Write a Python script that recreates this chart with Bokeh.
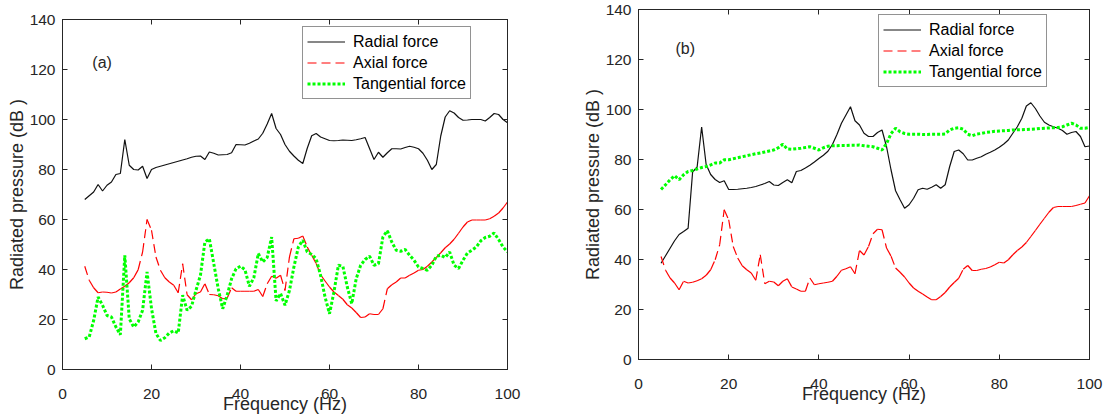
from bokeh.plotting import figure
from bokeh.models import Range1d, LinearAxis, SingleIntervalTicker, Legend, LegendItem
from bokeh.layouts import row
from bokeh.embed import file_html
from bokeh.resources import INLINE
from bokeh.core.properties import value

freq = list(range(5, 101))

radial_a = [68, 69.5, 71, 74, 71.4, 73.7, 75, 78, 78.4, 92, 81.7, 80, 79.8, 81.3, 76.4, 80,
            80.8, 81.3, 81.8, 82.3, 82.8, 83.3, 83.8, 84.3, 84.9, 85.3, 85.4, 84, 87, 86.5, 85.8,
            85.9, 86, 86.7, 90, 89.9, 89.8, 90.5, 91.4, 92.2, 94.5, 98.2, 102.4, 96.4, 94, 90,
            87.3, 85.4, 83.7, 82.4, 88.5, 93.5, 94.4, 93, 92.3, 91.6, 91.5, 91.6, 91.8, 91.7,
            91.6, 91.9, 92.3, 92.8, 88.4, 84, 86.9, 84.9, 86.7, 88.3, 88.3, 88.2, 88.8, 89.3,
            88.9, 88.3, 86.5, 83.7, 80, 82, 93.4, 101, 103.5, 102.6, 100.8, 99.7, 99.8, 100,
            100, 100, 99.4, 100.8, 102.4, 102, 100, 98.7]
axial_a = [41.3, 35.7, 32.7, 30.7, 31, 30.9, 30.6, 31, 32.2, 33.3, 34.7, 36.7, 39.9, 47, 60,
           55.7, 45, 39.7, 36.7, 35, 33.7, 30.7, 42.3, 29.9, 27.9, 30.3, 31, 34.3, 30, 29.9,
           29.5, 28.3, 28.5, 32.7, 31.3, 31.3, 31.3, 31.3, 31.3, 32, 29.2, 34.3, 37.3, 36.5,
           37.7, 31.6, 45, 52.3, 52.5, 53.4, 49, 45.7, 42.4, 37.9, 35.4, 33, 31, 29.6, 28.1,
           25.9, 24.6, 22.8, 20.8, 21, 22.3, 22, 22, 24.3, 32.3, 33.9, 35, 36.6, 36.6, 37.7,
           38.6, 39.7, 40, 41.3, 43, 44.8, 46.7, 48.7, 50.2, 52.1, 54.5, 57, 59, 59.8, 59.8,
           59.8, 59.8, 60.3, 61.3, 62.6, 64.6, 67]
tangential_a = [12.3, 13, 19.6, 29, 25.7, 21.6, 21, 17, 13.9, 45.7, 20.3, 17, 19, 23.7, 39,
                24.4, 14.4, 11.6, 12.7, 14.6, 15.5, 14.6, 29.7, 23.7, 25.3, 31.7, 37.7, 51,
                52.3, 42.3, 32.3, 24.3, 29.7, 36.3, 40.3, 41.3, 39.9, 33.3, 36.7, 46.4, 43,
                44.8, 53, 27.4, 30.4, 25.7, 31.6, 41, 49, 51.7, 47, 46, 44.3, 37.6, 29, 22.3,
                31, 41.7, 41.3, 33, 26.3, 36.3, 41.7, 44, 45.3, 41.7, 42.3, 53, 55.5, 51, 47.7,
                47.3, 48, 45.7, 43.7, 41, 40.4, 39.7, 41.7, 45.3, 45.7, 44.8, 47, 41.7, 40.4,
                43.7, 46.6, 47.7, 49, 51.5, 52.8, 53.3, 54.6, 52, 49, 47]

radial_b = [38.5, 41.5, 44.5, 47.5, 50, 51.2, 52.5, 75, 77, 93, 78, 74, 72, 70.8, 71.5, 68,
            68, 68.1, 68.3, 68.5, 68.8, 69.2, 69.8, 70.4, 71.2, 69.8, 69.6, 70.8, 71.9, 70.7,
            75.2, 75.6, 76.6, 77.7, 79, 80.4, 81.7, 83.3, 86, 90, 94.5, 97.8, 101.1, 95.5,
            93.8, 90.5, 89.2, 89.2, 90.8, 91.8, 85.1, 75.8, 67.5, 63.9, 60.5, 61.9, 64.5,
            67.9, 68.5, 68.1, 68.9, 69.9, 68.5, 69.9, 77.2, 83.2, 83.8, 82.3, 79.8, 79.8,
            80.5, 81.1, 82.1, 82.9, 83.8, 84.9, 86.2, 87.8, 90.5, 93.1, 96.5, 101.4, 102.7,
            100.4, 97.4, 94.9, 93.8, 93.1, 92.5, 91.6, 90.1, 90.8, 91.2, 89.2, 85.1, 85.4]
axial_b = [41.2, 35.7, 32.6, 30.6, 27.9, 31.3, 30.6, 30.9, 31.5, 32.3, 33.7, 35.9, 39.9, 45.9,
           59.9, 55.9, 45.2, 40.6, 37.5, 35.9, 34.6, 31.7, 41.9, 30.3, 31.3, 31, 29.5, 31.3,
           32.3, 29, 28.2, 27.3, 27.3, 32.6, 29.9, 30.3, 30.6, 30.9, 31.3, 33.3, 35.7, 36.3,
           37.1, 34.3, 43.6, 41.8, 45.2, 50.3, 52.1, 51.9, 44.6, 41.3, 36.6, 34.9, 33, 30.6,
           28.6, 27.3, 26.2, 25, 23.9, 23.9, 25.2, 26.8, 29, 30.8, 32.5, 36.1, 37.6, 35.6,
           35.6, 36.1, 36.4, 37, 37.9, 38.9, 38.6, 39.9, 41.9, 43.6, 45, 46.8, 49.2, 51.6,
           54.1, 56.5, 58.9, 60.8, 61.2, 61.2, 61.2, 61.2, 61.6, 62.1, 62.6, 65.5]
tangential_b = [68, 69.9, 71.9, 73.5, 71.9, 73.9, 75.2, 75.6, 76.2, 76.8, 77.2, 77.8, 78.6,
                78.6, 79.9, 79.9, 80.3, 80.7, 81.1, 81.5, 81.9, 82.3, 82.6, 83, 83.4, 83.8,
                84.7, 86.1, 84.2, 84.1, 84.3, 84.5, 84.8, 85.1, 84.5, 83.8, 84.7, 85.3, 85.5,
                85.5, 85.6, 85.6, 85.7, 85.7, 85.8, 85.5, 85.3, 85.1, 84.5, 83.8, 86.4, 90.4,
                92.5, 91.1, 90.4, 90.1, 90.1, 90.1, 90, 90, 90.1, 90.1, 90.1, 90.2, 91.8, 92.5,
                92.7, 92.1, 90.1, 89.5, 90.2, 90.4, 90.8, 91, 91.3, 91.4, 91.5, 91.6, 91.8,
                91.9, 91.9, 92, 92.1, 92.2, 92.4, 92.5, 92.6, 92.7, 92.8, 93.1, 93.8, 94.5,
                93.8, 92.5, 92.5, 92.8]

series_labels = ["Radial force", "Axial force", "Tangential force"]
panel_tags = ["(a)", "(b)"]
x_label = "Frequency (Hz)"
y_label = "Radiated pressure (dB )"

FONT = "Liberation Sans"
AX = "#262626"
RED = "#ff0000"


def style_axis(ax, labels=True):
    ax.ticker = SingleIntervalTicker(interval=20)
    ax.major_tick_in = 5
    ax.major_tick_out = 0
    ax.minor_tick_in = 0
    ax.minor_tick_out = 0
    ax.axis_line_color = AX
    ax.major_tick_line_color = AX
    ax.major_label_text_font = FONT
    ax.axis_label_text_font = FONT
    ax.axis_label_text_font_size = "18px"
    ax.axis_label_text_font_style = "normal"
    ax.axis_label_text_color = AX
    if labels:
        ax.major_label_text_font_size = "15.5px"
        ax.major_label_text_color = AX
    else:
        ax.major_label_text_font_size = "1px"
        ax.major_label_text_color = None
        ax.major_label_standoff = 0


def make_panel(width, bl, br, rad, axi, tan, tag, tag_x, tag_y, leg_loc):
    p = figure(width=width, height=419, output_backend="svg", toolbar_location=None,
               x_range=Range1d(0, 100), y_range=Range1d(0, 140),
               min_border_left=bl, min_border_right=br, min_border_top=19,
               min_border_bottom=50)
    p.grid.visible = False
    p.outline_line_color = AX
    p.background_fill_color = "white"
    p.border_fill_color = "white"
    style_axis(p.xaxis[0])
    style_axis(p.yaxis[0])
    p.xaxis[0].axis_label = x_label
    p.yaxis[0].axis_label = y_label
    p.xaxis[0].major_label_standoff = 19
    p.xaxis[0].axis_label_standoff = -8
    p.yaxis[0].major_label_standoff = 7
    p.yaxis[0].axis_label_standoff = 0
    top = LinearAxis()
    style_axis(top, labels=False)
    p.add_layout(top, "above")
    right = LinearAxis()
    style_axis(right, labels=False)
    p.add_layout(right, "right")

    r1 = p.line(freq, rad, line_color="#111111", line_width=1.2)
    # dash pattern restarts at every sample, as in the original rendering
    xs = [[freq[i], freq[i + 1]] for i in range(len(freq) - 1)]
    ys = [[axi[i], axi[i + 1]] for i in range(len(freq) - 1)]
    r2 = p.multi_line(xs, ys, line_color=RED, line_width=1.2, line_dash="9 5")
    r3 = p.line(freq, tan, line_color="#00ff00", line_width=3, line_dash="3 2")

    p.text(x=[tag_x], y=[tag_y], text=[tag], text_font=value(FONT), text_font_size="16px",
           text_baseline="middle", text_align="left", text_color=AX)

    legend = Legend(items=[LegendItem(label=series_labels[0], renderers=[r1]),
                           LegendItem(label=series_labels[1], renderers=[r2]),
                           LegendItem(label=series_labels[2], renderers=[r3])],
                    location=leg_loc)
    legend.label_text_font = FONT
    legend.label_text_font_size = "16px"
    legend.label_text_color = "#000000"
    legend.glyph_width = 38
    legend.glyph_height = 21
    legend.label_height = 21
    legend.label_standoff = 8
    legend.padding = 4
    legend.spacing = 0
    legend.margin = 0
    legend.border_line_color = AX
    legend.border_line_width = 1
    legend.background_fill_alpha = 1
    p.add_layout(legend)
    return p


p1 = make_panel(560, 62, 53, radial_a, axial_a, tangential_a, panel_tags[0], 6.7, 123,
                (240, 270))
p2 = make_panel(547, 78, 18, radial_b, axial_b, tangential_b, panel_tags[1], 8.2, 124.4,
                (240, 272))
p2.styles = {"position": "relative", "top": "-10px"}

layout = row(p1, p2)
open("out.html", "w").write(file_html(layout, INLINE))
